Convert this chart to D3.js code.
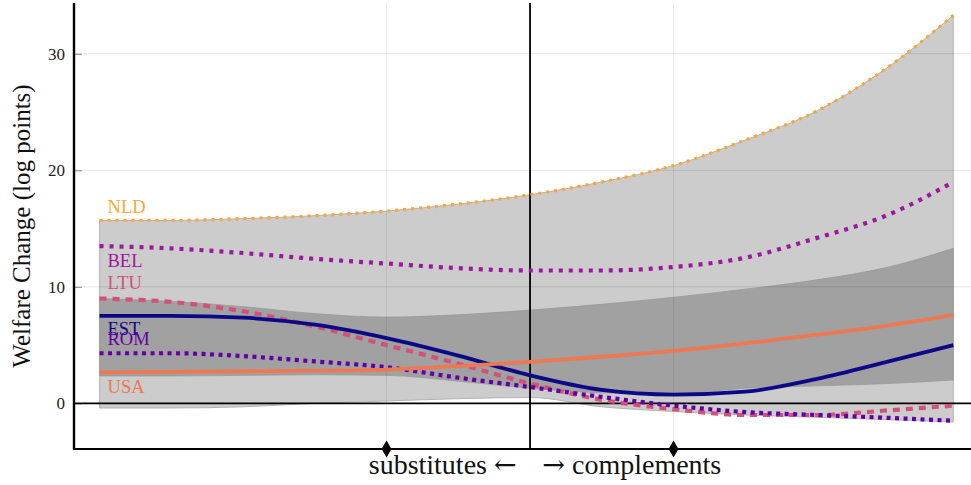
<!DOCTYPE html>
<html>
<head>
<meta charset="utf-8">
<script src="https://cdn.jsdelivr.net/npm/d3@7"></script>
<style>
  body { margin: 0; background: #fff; }
  text { font-family: "Liberation Serif", "DejaVu Serif", serif; }
</style>
</head>
<body>
<script>
// x values (elasticity parameter, 0 = separating line)
var xs = [-3, -2.5, -2, -1.5, -1, -0.5, 0, 0.5, 1, 1.5, 2, 2.5, 2.95];

// welfare change series (log points)
var nld = [15.7, 15.7, 15.85, 16.1, 16.5, 17.1, 17.9, 19.0, 20.4, 22.6, 25.1, 28.9, 33.3];
var bel = [13.5, 13.3, 12.9, 12.4, 12.0, 11.6, 11.4, 11.4, 11.7, 12.5, 14.2, 16.2, 19.0];
var ltu = [9.0, 8.7, 7.9, 6.6, 5.0, 3.4, 1.7, 0.3, -0.5, -1.0, -1.0, -0.6, -0.2];
var est = [7.5, 7.5, 7.35, 6.75, 5.6, 4.1, 2.4, 1.15, 0.75, 1.0, 2.1, 3.6, 5.0];
var rom = [4.3, 4.3, 4.05, 3.6, 3.1, 2.2, 1.4, 0.55, -0.2, -0.75, -1.0, -1.25, -1.5];
var usa = [2.65, 2.7, 2.75, 2.8, 2.9, 3.2, 3.55, 4.0, 4.5, 5.15, 5.9, 6.7, 7.6];

// envelope of all countries (light) and inner range (dark)
var allMin = [-0.4, -0.4, -0.3, 0.0, 0.2, 0.4, 0.5, -0.3, -0.7, -1.0, -1.2, -1.4, -1.6];
var allMax = nld;
var innerLo = [2.35, 2.35, 2.4, 2.45, 2.4, 1.9, 1.3, 0.9, 0.8, 1.3, 1.5, 1.7, 2.0];
var innerHi = [9.0, 8.75, 8.3, 7.7, 7.4, 7.6, 8.0, 8.5, 9.1, 9.8, 10.6, 11.7, 13.3];

var countries = ["NLD", "BEL", "LTU", "EST", "ROM", "USA"];
var labelY = [16.33, 11.73, 9.81, 5.87, 5.01, 0.89];
var yTicks = [0, 10, 20, 30];
var markX = [-1, 1];

var width = 971, height = 485;
var margin = {top: 3, right: 0, bottom: 36, left: 74};

var x = d3.scaleLinear().domain([-3.178, 3.073]).range([margin.left, width - margin.right]);
var y = d3.scaleLinear().domain([-3.92, 34.36]).range([height - margin.bottom, margin.top]);

var svg = d3.select("body").append("svg")
    .attr("width", width)
    .attr("height", height);

var series = [
  {name: "NLD", vals: nld, color: "#fca636", w: 3.2, dash: "3,5"},
  {name: "BEL", vals: bel, color: "#9c179e", w: 4.2, dash: "4,6"},
  {name: "LTU", vals: ltu, color: "#d3507a", w: 4.2, dash: "7,6"},
  {name: "EST", vals: est, color: "#0d0887", w: 3.8, dash: null},
  {name: "ROM", vals: rom, color: "#6200a5", w: 4.2, dash: "4,4.5"},
  {name: "USA", vals: usa, color: "#ed7953", w: 3.8, dash: null}
];

var curve = d3.curveMonotoneX;

function band(lo, hi) {
  return d3.area()
    .x(function(d, i) { return x(xs[i]); })
    .y0(function(d, i) { return y(lo[i]); })
    .y1(function(d, i) { return y(hi[i]); })
    .curve(curve)(xs);
}

// bands
svg.append("path")
    .attr("d", band(allMin, allMax))
    .attr("fill", "#cccccc")
    .attr("stroke", "#b4b4b4")
    .attr("stroke-width", 1);

svg.append("path")
    .attr("d", band(innerLo, innerHi))
    .attr("fill", "#a1a1a1")
    .attr("stroke", "#999")
    .attr("stroke-width", 0.8);

// grid lines
svg.selectAll(".hgrid")
    .data(yTicks.filter(function(d) { return d !== 0; }))
    .enter().append("line")
    .attr("x1", margin.left)
    .attr("x2", width)
    .attr("y1", function(d) { return y(d); })
    .attr("y2", function(d) { return y(d); })
    .attr("stroke", "rgba(0,0,0,0.1)")
    .attr("stroke-width", 1);

svg.selectAll(".vgrid")
    .data(markX)
    .enter().append("line")
    .attr("x1", function(d) { return x(d); })
    .attr("x2", function(d) { return x(d); })
    .attr("y1", margin.top)
    .attr("y2", height - margin.bottom)
    .attr("stroke", "rgba(0,0,0,0.08)")
    .attr("stroke-width", 1);

// y axis
var yAxis = svg.append("g")
    .attr("transform", "translate(" + margin.left + ",0)")
    .call(d3.axisLeft(y).tickValues(yTicks).tickSize(0).tickPadding(9));
yAxis.select(".domain").remove();
yAxis.selectAll("text")
    .attr("font-size", 17)
    .attr("fill", "#222")
    .style("font-family", "'Liberation Serif', serif");
yAxis.selectAll(".tick").append("line")
    .attr("x1", 0).attr("x2", 8)
    .attr("stroke", "#888").attr("stroke-width", 1);

// zero line and separating line
svg.append("line")
    .attr("x1", margin.left).attr("x2", width)
    .attr("y1", y(0)).attr("y2", y(0))
    .attr("stroke", "#000").attr("stroke-width", 1.8);

svg.append("line")
    .attr("x1", x(0)).attr("x2", x(0))
    .attr("y1", margin.top).attr("y2", height - margin.bottom)
    .attr("stroke", "#000").attr("stroke-width", 1.8);

// country lines
var line = d3.line()
    .x(function(d, i) { return x(xs[i]); })
    .y(function(d) { return y(d); })
    .curve(curve);

series.forEach(function(s) {
  svg.append("path")
      .attr("d", line(s.vals))
      .attr("fill", "none")
      .attr("stroke", s.color)
      .attr("stroke-width", s.w)
      .attr("stroke-dasharray", s.dash);
});

// country labels
svg.selectAll(".lab")
    .data(series)
    .enter().append("text")
    .attr("x", x(xs[0]) + 8)
    .attr("y", function(d, i) { return y(labelY[i]); })
    .attr("fill", function(d) { return d.color; })
    .attr("font-size", 18.5)
    .text(function(d, i) { return countries[i]; });

// frame
svg.append("line")
    .attr("x1", margin.left).attr("x2", margin.left)
    .attr("y1", margin.top).attr("y2", height - margin.bottom + 1)
    .attr("stroke", "#000").attr("stroke-width", 2.4);
svg.append("line")
    .attr("x1", margin.left).attr("x2", width)
    .attr("y1", height - margin.bottom).attr("y2", height - margin.bottom)
    .attr("stroke", "#000").attr("stroke-width", 2.2);

// diamonds
svg.selectAll(".mark")
    .data(markX)
    .enter().append("path")
    .attr("d", d3.symbol(d3.symbolDiamond, 85))
    .attr("transform", function(d) { return "translate(" + x(d) + "," + (height - margin.bottom) + ")"; })
    .attr("fill", "#000");

// axis titles
var xt = svg.append("text")
    .attr("x", 545)
    .attr("y", 474)
    .attr("text-anchor", "middle")
    .attr("font-size", 28)
    .attr("fill", "#111");
xt.append("tspan").text("substitutes ");
xt.append("tspan").style("font-family", "'DejaVu Serif', serif").attr("font-size", 27).text("\u2190\u00a0\u00a0\u00a0\u2192");
xt.append("tspan").text(" complements");

svg.append("text")
    .attr("transform", "translate(30,226) rotate(-90)")
    .attr("text-anchor", "middle")
    .attr("font-size", 25)
    .attr("fill", "#111")
    .text("Welfare Change (log points)");
</script>
</body>
</html>
